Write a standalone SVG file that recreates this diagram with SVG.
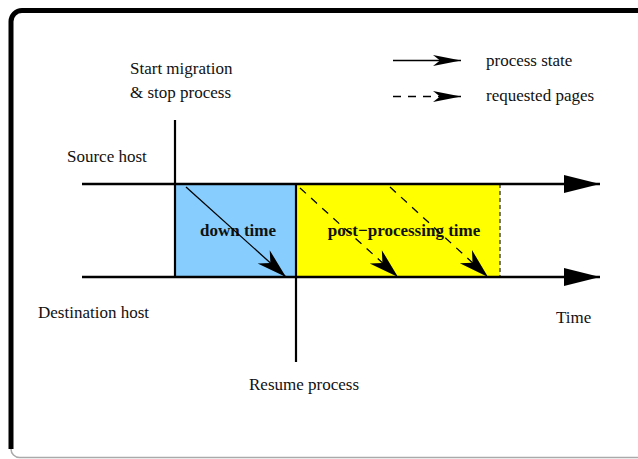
<svg xmlns="http://www.w3.org/2000/svg" width="638" height="459" viewBox="0 0 638 459">
  <style>
    .lbl { font-family: "Liberation Serif", "Times New Roman", serif; font-size: 17px; fill: #111; }
    .bold { font-family: "Liberation Serif", "Times New Roman", serif; font-size: 17px; font-weight: bold; fill: #111; }
    .axis { stroke: #000; stroke-width: 2.6; fill: none; }
    .mark { stroke: #000; stroke-width: 2.2; fill: none; }
    .flow { stroke: #000; stroke-width: 1.3; fill: none; }
    .dash { stroke-dasharray: 8 7; }
  </style>
  <defs>
    <marker id="tri" markerUnits="userSpaceOnUse" markerWidth="40" markerHeight="20" viewBox="-36 -10 37 20" refX="0" refY="0" orient="auto">
      <path d="M0,0 L-36,-9 L-36,9 Z" fill="#000"/>
    </marker>
    <marker id="barb" markerUnits="userSpaceOnUse" markerWidth="34" markerHeight="22" viewBox="-31 -11 32 22" refX="0" refY="0" orient="auto">
      <path d="M0,0 L-30,-9 L-21,0 L-30,9 Z" fill="#000"/>
    </marker>
    <marker id="barb-small" markerUnits="userSpaceOnUse" markerWidth="32" markerHeight="14" viewBox="-29 -7 30 14" refX="0" refY="0" orient="auto">
      <path d="M0,0 L-28,-5.5 L-21,0 L-28,5.5 Z" fill="#000"/>
    </marker>
  </defs>

  <rect x="0" y="0" width="638" height="459" fill="#fff"/>

  <!-- frame -->
  <g id="frame">
    <path d="M645,10.5 H22 A11,11 0 0 0 11,21.5 V449" stroke="#000" stroke-width="5" fill="none"/>
    <path d="M11,449 A8.5,8.5 0 0 0 19.5,457.5 H645" stroke="#aaa" stroke-width="1.5" fill="none"/>
  </g>

  <!-- time windows -->
  <g id="downtime">
    <rect x="175" y="184" width="121" height="93" fill="#87CEFF"/>
    <text class="bold" x="238" y="236" text-anchor="middle">down time</text>
  </g>
  <g id="postprocessing">
    <rect x="296" y="184" width="204" height="93" fill="#FFFF00"/>
    <line x1="500" y1="184" x2="500" y2="277" stroke="#555" stroke-width="1.6" stroke-dasharray="4 3"/>
    <text class="bold" x="404" y="236" text-anchor="middle">post−processing time</text>
  </g>

  <!-- hosts -->
  <g id="source-host">
    <text class="lbl" x="67" y="162">Source host</text>
  </g>
  <g id="destination-host">
    <text class="lbl" x="38" y="318">Destination host</text>
  </g>
  <g id="start-migration">
    <text class="lbl" x="130" y="74">Start migration</text>
    <text class="lbl" x="130" y="98">&amp; stop process</text>
  </g>
  <g id="resume-process">
    <text class="lbl" x="249" y="390">Resume process</text>
  </g>
  <g id="time">
    <text class="lbl" x="556" y="323">Time</text>
  </g>

  <!-- legend -->
  <g id="legend">
    <line class="flow" x1="393" y1="60.5" x2="461" y2="60.5" marker-end="url(#barb-small)"/>
    <line class="flow dash" x1="393" y1="96.5" x2="461" y2="96.5" marker-end="url(#barb-small)"/>
    <text class="lbl" x="486" y="66">process state</text>
    <text class="lbl" x="486" y="101">requested pages</text>
  </g>

  <!-- connectors -->
  <g id="connectors">
    <line class="axis" x1="82" y1="184" x2="600" y2="184" marker-end="url(#tri)"/>
    <line class="axis" x1="82" y1="277" x2="600" y2="277" marker-end="url(#tri)"/>
    <line class="mark" x1="175" y1="120" x2="175" y2="277"/>
    <line class="mark" x1="296" y1="184" x2="296" y2="362"/>
    <line class="flow" x1="186" y1="187" x2="286" y2="277" marker-end="url(#barb)"/>
    <line class="flow dash" x1="300" y1="188" x2="398" y2="277" marker-end="url(#barb)"/>
    <line class="flow dash" x1="390" y1="187" x2="488" y2="277" marker-end="url(#barb)"/>
  </g>
</svg>
